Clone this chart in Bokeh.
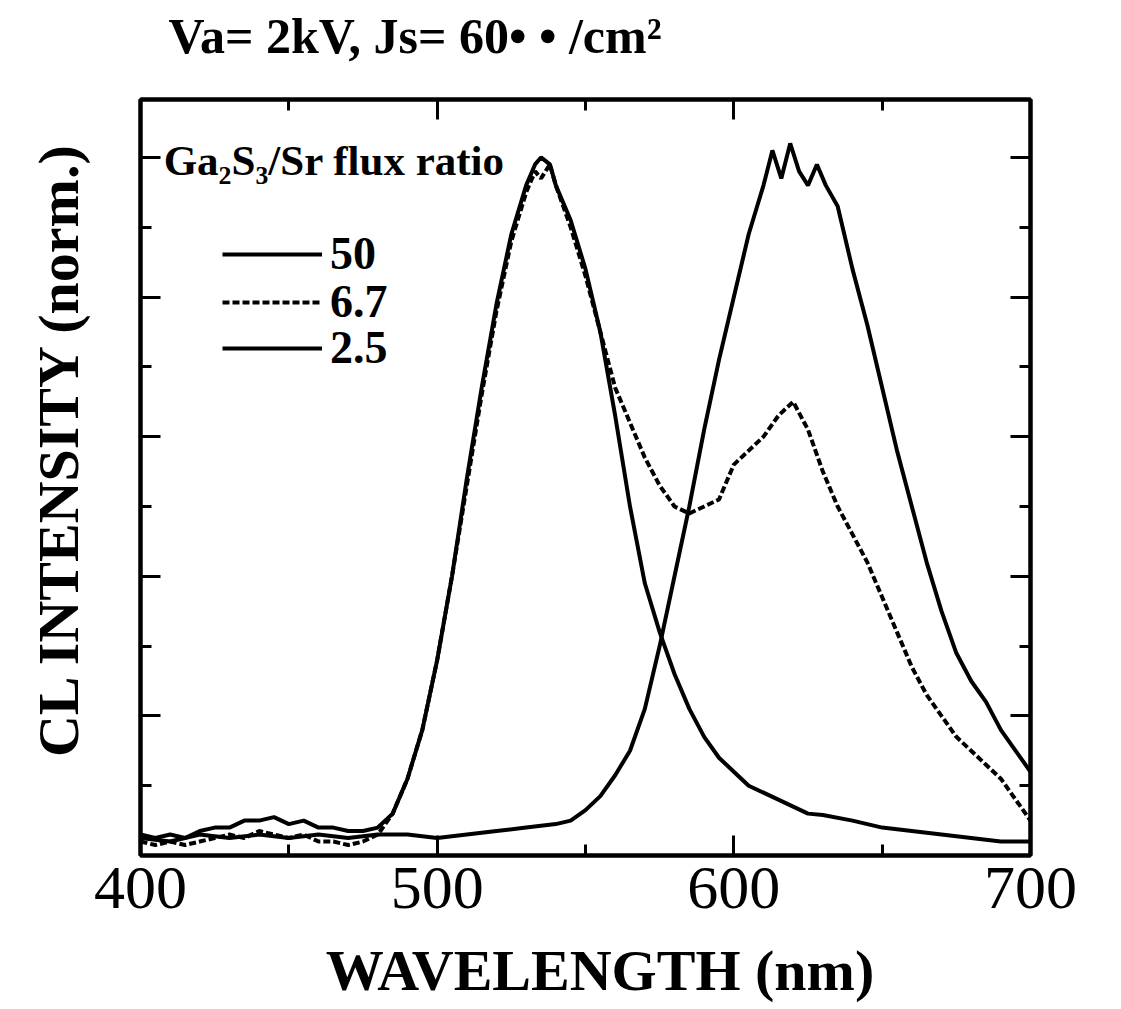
import math
from bokeh.plotting import figure
from bokeh.models import (Range1d, LinearAxis, FixedTicker, Label, Legend,
                          LegendItem)
from bokeh.embed import file_html
from bokeh.resources import INLINE

# ---------------- data ----------------
# Ga2S3/Sr flux ratio = 50  (solid)
wl_50 = [400, 405, 410, 415, 420, 425, 430, 435, 440, 445, 450, 455, 460, 465, 470, 475, 480,
         485, 490, 495, 500, 505, 510, 515, 520, 525, 530, 533, 535, 538,
         540, 545, 550, 555, 560, 565, 570, 575, 580, 585, 590, 595, 600, 605, 610, 615, 620, 625, 630,
         640, 650, 660, 670, 680, 690, 700]
int_50 = [0.03, 0.025, 0.03, 0.025, 0.035, 0.04, 0.04, 0.05, 0.05, 0.055, 0.045, 0.05, 0.04, 0.04, 0.035, 0.035, 0.04,
          0.06, 0.11, 0.18, 0.28, 0.40, 0.54, 0.67, 0.79, 0.89, 0.96, 0.99, 1.0, 0.99,
          0.96, 0.91, 0.84, 0.75, 0.63, 0.50, 0.39, 0.32, 0.26, 0.21, 0.17, 0.14, 0.12, 0.10, 0.09, 0.08, 0.07, 0.06, 0.058,
          0.05, 0.04, 0.035, 0.03, 0.025, 0.02, 0.02]

# Ga2S3/Sr flux ratio = 6.7  (dashed)
wl_67 = [400, 405, 410, 415, 420, 425, 430, 435, 440, 445, 450, 455, 460, 465, 470, 475, 480,
         485, 490, 495, 500, 505, 510, 515, 520, 525, 530, 533, 535, 538,
         540, 545, 550, 555, 560, 565, 570, 575, 580, 585, 590, 595, 600, 605, 610, 615, 620, 625, 630,
         635, 640, 645, 650, 655, 660, 665, 670, 675, 680, 685, 690, 695, 700]
int_67 = [0.02, 0.015, 0.02, 0.015, 0.02, 0.025, 0.03, 0.025, 0.035, 0.03, 0.025, 0.03, 0.02, 0.02, 0.015, 0.02, 0.03,
          0.06, 0.11, 0.18, 0.28, 0.40, 0.53, 0.66, 0.78, 0.88, 0.95, 0.98, 0.97, 0.99,
          0.96, 0.90, 0.83, 0.75, 0.67, 0.62, 0.57, 0.53, 0.50, 0.49, 0.50, 0.51, 0.56, 0.58, 0.60, 0.63, 0.65, 0.61, 0.55,
          0.50, 0.46, 0.42, 0.37, 0.32, 0.27, 0.23, 0.20, 0.17, 0.15, 0.13, 0.11, 0.08, 0.05]

# Ga2S3/Sr flux ratio = 2.5  (solid)
wl_25 = [400, 410, 420, 430, 440, 450, 460, 470, 480, 490, 500, 510, 520, 530, 540,
         545, 550, 555, 560, 565, 570, 575, 580, 585, 590, 595, 600, 605, 610,
         613, 616, 619, 622, 625, 628, 631,
         635, 640, 645, 650, 655, 660, 665, 670, 675, 680, 685, 690, 695, 700]
int_25 = [0.025, 0.02, 0.03, 0.025, 0.03, 0.025, 0.03, 0.025, 0.03, 0.03, 0.025, 0.03, 0.035, 0.04, 0.045,
          0.05, 0.065, 0.085, 0.115, 0.15, 0.21, 0.30, 0.40, 0.50, 0.61, 0.71, 0.80, 0.89, 0.96,
          1.01, 0.97, 1.02, 0.98, 0.96, 0.99, 0.96,
          0.93, 0.84, 0.76, 0.67, 0.58, 0.50, 0.42, 0.35, 0.29, 0.25, 0.22, 0.18, 0.15, 0.12]

series_labels = ["50", "6.7", "2.5"]
x_ticks = [400, 500, 600, 700]
x_minor = [450, 550, 650]
y_ticks = [0.2, 0.4, 0.6, 0.8, 1.0]
y_minor = [0.1, 0.3, 0.5, 0.7, 0.9]

title_text = "Va= 2kV, Js= 60\u2022 \u2022 /cm\u00b2"
legend_title = "Ga\u2082S\u2083/Sr flux ratio"
x_label = "WAVELENGTH (nm)"
y_label = "CL INTENSITY (norm.)"

SERIF = "Liberation Serif"

# ---------------- figure ----------------
p = figure(width=1121, height=1009,
           x_range=Range1d(400, 700), y_range=Range1d(0, 1.083),
           output_backend="svg", toolbar_location=None,
           min_border_left=140, min_border_right=91,
           min_border_top=97, min_border_bottom=154,
           background_fill_color="white", border_fill_color="white")
p.xgrid.visible = False
p.ygrid.visible = False
p.outline_line_color = "black"
p.outline_line_width = 4

# title: an empty second line lifts the text higher above the frame
p.title.text = title_text + "\n\u00a0"
p.title.text_font = SERIF
p.title.text_font_style = "bold"
p.title.text_font_size = "50px"
p.title.text_line_height = 0.55
p.title.text_color = "black"
p.title.align = "left"
p.title.offset = 28
p.title.standoff = 10

xt = FixedTicker(ticks=x_ticks, minor_ticks=x_minor)
yt = FixedTicker(ticks=y_ticks, minor_ticks=y_minor)


def style_axis(ax):
    ax.axis_line_width = 4
    ax.axis_line_color = "black"
    ax.major_tick_line_width = 3
    ax.minor_tick_line_width = 3
    ax.major_tick_line_color = "black"
    ax.minor_tick_line_color = "black"
    ax.major_tick_in = 20
    ax.major_tick_out = 0
    ax.minor_tick_in = 11
    ax.minor_tick_out = 0


bx = p.xaxis[0]
bx.ticker = xt
style_axis(bx)
bx.major_label_text_font = SERIF
bx.major_label_text_font_size = "62px"
bx.major_label_text_color = "black"
bx.major_label_standoff = 12
bx.axis_label = "\u00a0\u00a0" + x_label
bx.axis_label_text_font = SERIF
bx.axis_label_text_font_style = "bold"
bx.axis_label_text_font_size = "58px"
bx.axis_label_text_color = "black"
bx.axis_label_standoff = 27

ly = p.yaxis[0]
ly.ticker = yt
style_axis(ly)
ly.major_label_text_font_size = "0px"
ly.axis_label = "\u00a0\u00a0\u00a0\u00a0" + y_label
ly.axis_label_text_font = SERIF
ly.axis_label_text_font_style = "bold"
ly.axis_label_text_font_size = "58px"
ly.axis_label_text_color = "black"
ly.axis_label_standoff = 50

top_ax = LinearAxis(ticker=xt, major_label_text_font_size="0px")
style_axis(top_ax)
p.add_layout(top_ax, "above")

right_ax = LinearAxis(ticker=yt, major_label_text_font_size="0px")
style_axis(right_ax)
p.add_layout(right_ax, "right")

# ---------------- curves ----------------
r50 = p.line(wl_50, int_50, line_color="black", line_width=4)
r67 = p.line(wl_67, int_67, line_color="black", line_width=4, line_dash="7 3")
r25 = p.line(wl_25, int_25, line_color="black", line_width=4)

# one single-item legend per series, stacked like the reference key
for lab, rend, loc_y in zip(series_labels, [r50, r67, r25], [575, 527, 481]):
    lg = Legend(items=[LegendItem(label=lab, renderers=[rend])],
                location=(82, loc_y),
                glyph_width=100, glyph_height=40,
                label_text_font=SERIF, label_text_font_style="bold",
                label_text_font_size="46px", label_text_color="black",
                label_standoff=8,
                spacing=0, padding=0, margin=0,
                border_line_color=None, background_fill_alpha=0)
    p.add_layout(lg)

# ---------------- texts ----------------
p.add_layout(Label(x=407.8, y=0.996, text=legend_title, text_font=SERIF,
                   text_font_style="bold", text_font_size="43px",
                   text_baseline="alphabetic", text_color="black"))

open("out.html", "w").write(file_html(p, INLINE))
